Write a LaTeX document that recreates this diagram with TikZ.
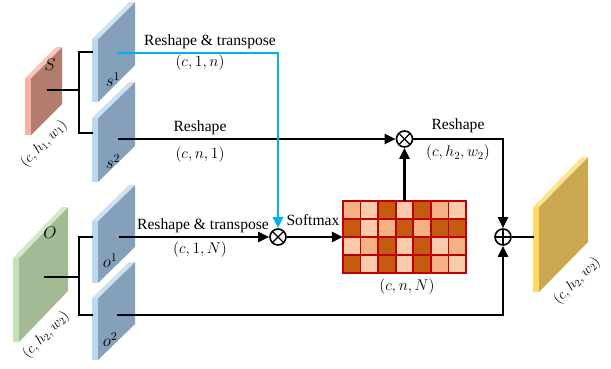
\RequirePackage{fix-cm}
\documentclass[tikz,border=0pt]{standalone}
\usepackage{fontspec}
\setmainfont{Liberation Serif}
\usetikzlibrary{arrows.meta}
\definecolor{cyanline}{HTML}{00B0F0}
\definecolor{bluface}{HTML}{84A0BA}
\definecolor{bluedge}{HTML}{BDD7EE}
\definecolor{redface}{HTML}{B47C6E}
\definecolor{rededge}{HTML}{F4B1A0}
\definecolor{grnface}{HTML}{A3BB94}
\definecolor{grnedge}{HTML}{C5E0B4}
\definecolor{goldface}{HTML}{C9A850}
\definecolor{goldedge}{HTML}{FFD966}
\definecolor{matred}{HTML}{C00000}
\definecolor{celld}{HTML}{C55A11}
\definecolor{cellm}{HTML}{F4B183}
\definecolor{celll}{HTML}{F8CBAD}
% x0, ytop, ybot, width, dx, dy, face, edge
\newcommand\myslab[8]{%
  \fill[#7] (#1+#4,#2) -- ++(#5,-#6) -- ++(0,#3-#2) -- (#1+#4,#3) -- cycle;
  \fill[#8] (#1,#2) rectangle (#1+#4,#3);
  \fill[#8!75!white] (#1,#2) -- (#1+#4,#2) -- ++(#5,-#6) -- ++(-#4,0) -- cycle;
}
\begin{document}
\begin{tikzpicture}[x=1pt,y=-1pt,
  lbl/.style={font=\fontsize{15.6}{18}\selectfont, inner sep=0pt},
  sym/.style={font=\fontsize{17}{20}\selectfont, inner sep=0pt},
  dimlbl/.style={font=\fontsize{14.5}{17}\selectfont, inner sep=0pt, rotate=45},
  conn/.style={line width=2.4pt, black},
  arr/.style={conn, -{Triangle[length=11pt,width=10pt]}},
  bluearr/.style={line width=2.5pt, cyanline, -{Triangle[length=11pt,width=10pt]}},
  mulop/.style={circle, draw, line width=1.6pt, minimum size=16pt, inner sep=0pt,
    path picture={\draw[line width=1.4pt] (path picture bounding box.south west) -- (path picture bounding box.north east)
      (path picture bounding box.north west) -- (path picture bounding box.south east);}},
  addop/.style={circle, draw, line width=1.6pt, minimum size=16pt, inner sep=0pt,
    path picture={\draw[line width=1.4pt] (path picture bounding box.north) -- (path picture bounding box.south)
      (path picture bounding box.west) -- (path picture bounding box.east);}}
]
\useasboundingbox (0,0) rectangle (611,368);

% slabs
\myslab{25}{78}{135}{6}{31}{31}{redface}{rededge}
\myslab{92}{39}{102}{6}{37}{37}{bluface}{bluedge}
\myslab{92}{118}{182}{6}{37}{36}{bluface}{bluedge}
\myslab{13}{258}{342}{6}{49}{51}{grnface}{grnedge}
\myslab{92}{221}{283}{6}{37}{36}{bluface}{bluedge}
\myslab{92}{298}{360}{6}{37}{36}{bluface}{bluedge}
\myslab{533}{207}{292}{6}{49}{50}{goldface}{goldedge}

% slab labels
\node[sym] (lS) at (50,65) {$S$};
\node[sym] (lO) at (50,233) {$O$};
\node[sym] (ls1) at (113,80) {$s^1$};
\node[sym] (ls2) at (113,162) {$s^2$};
\node[sym] (lo1) at (110,261) {$o^1$};
\node[sym] (lo2) at (110,340) {$o^2$};
\node[dimlbl] (dS) at (44,144) {$(c,h_1,w_1)$};
\node[dimlbl] (dO) at (46,335) {$(c,h_2,w_2)$};
\node[dimlbl] (dOut) at (577,281) {$(c,h_2,w_2)$};

% named points on slabs
\coordinate (Sc) at (47,90);
\coordinate (sJ) at (79,90);
\coordinate (sA) at (93,52);
\coordinate (sB) at (93,133);
\coordinate (Oc) at (44,277);
\coordinate (oJ) at (79,277);
\coordinate (oA) at (93,237);
\coordinate (oB) at (93,315);
\coordinate (s1o) at (117,53);
\coordinate (s2o) at (118,139);
\coordinate (o1o) at (119,237);
\coordinate (o2o) at (117,315);
\coordinate (outin) at (534,237);

% operators
\node[mulop] (mulA) at (278,237) {};
\node[mulop] (mulB) at (404.5,139) {};
\node[addop] (plus) at (503,237) {};

% matrix
\node[minimum width=123pt, minimum height=71pt, inner sep=0pt] (mat) at (404.5,237) {};
\foreach \row [count=\r from 0] in {{m,l,d,l,d,m,l},{d,l,m,d,m,d,d},{l,m,d,l,d,l,m},{d,l,d,l,d,m,l}} {
  \foreach \k [count=\c from 0] in \row {
    \filldraw[fill=cell\k, draw=matred, line width=1.6pt] (343+\c*17.5714,201.5+\r*17.75) rectangle ++(17.5714,17.75);
  }
}
\draw[matred, line width=2pt] (mat.north west) rectangle (mat.south east);

% connectors
\draw[conn] (Sc) -- (sJ);
\draw[conn] (sA) -| (sJ) |- (sB);
\draw[conn] (Oc) -- (oJ);
\draw[conn] (oA) -| (oJ) |- (oB);
\draw[arr] (s2o) -- (mulB.west);
\draw[arr] (o1o) -- (mulA.west);
\draw[arr] (mulA.east) -- (mat.west);
\draw[arr] (mat.north) -- (mulB.south);
\draw[arr] (mulB.east) -| (plus.north);
\draw[arr] (o2o) -| (plus.south);
\draw[conn] (plus.east) -- (outin);
\draw[bluearr] (s1o) -| (mulA.north);

% texts
\node[lbl] (t1) at (210,42) {Reshape \& transpose};
\node[lbl] (t2) at (200,63) {$(c,1,n)$};
\node[lbl] (t3) at (200,128) {Reshape};
\node[lbl] (t4) at (200,155) {$(c,n,1)$};
\node[lbl] (t5) at (203,226) {Reshape \& transpose};
\node[lbl] (t6) at (200,250) {$(c,1,N)$};
\node[lbl] (t7) at (313,220) {Softmax};
\node[lbl] (t8) at (407,287) {$(c,n,N)$};
\node[lbl] (t9) at (458,126) {Reshape};
\node[lbl] (t10) at (458,153) {$(c,h_2,w_2)$};
\end{tikzpicture}
\end{document}
